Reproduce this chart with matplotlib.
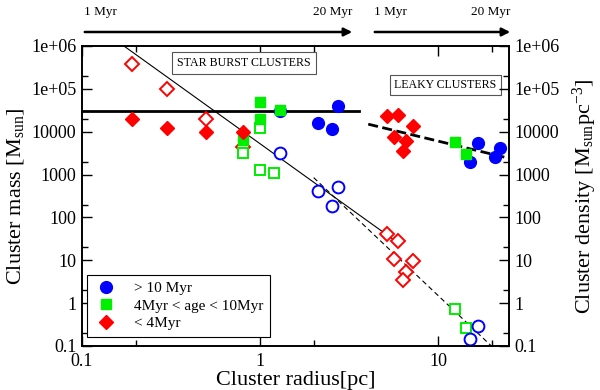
import matplotlib
matplotlib.use("Agg")
import matplotlib.pyplot as plt
from matplotlib.patches import FancyArrowPatch
from matplotlib.lines import Line2D
from matplotlib.ticker import FixedLocator, FixedFormatter, NullFormatter

plt.rcParams['font.family'] = ['Liberation Serif', 'DejaVu Serif']
plt.rcParams['mathtext.fontset'] = 'custom'
plt.rcParams['mathtext.rm'] = 'Liberation Serif'
plt.rcParams['mathtext.it'] = 'Liberation Serif:italic'

# ---------------- data ----------------
# > 10 Myr (blue)
old_r_mass = [1.3, 2.12, 2.53, 2.74, 15.1, 16.8, 20.9, 22.3]
old_mass = [3.1e4, 1.6e4, 1.15e4, 4.0e4, 1950, 5500, 2570, 4200]
old_r_dens = [1.3, 2.12, 2.53, 2.74, 15.1, 16.8]
old_dens = [3200, 410, 185, 510, 0.146, 0.29]

# 4 Myr < age < 10 Myr (green)
mid_r_mass = [0.8, 1.0, 1.0, 1.3, 12.5, 14.3]
mid_mass = [6400, 4.9e4, 2.0e4, 3.2e4, 5800, 3000]
mid_r_dens = [0.8, 1.0, 1.0, 1.2, 12.5, 14.3]
mid_dens = [3200, 1.2e4, 1300, 1100, 0.73, 0.26]

# < 4 Myr (red)
young_r_mass = [0.19, 0.30, 0.50, 0.80, 5.16, 5.96, 7.24, 5.66, 6.6, 6.38]
young_mass = [2.0e4, 1.22e4, 1.0e4, 1.0e4, 2.3e4, 2.45e4, 1.36e4, 7500, 6000, 3550]
young_r_dens = [0.19, 0.30, 0.50, 0.80, 5.16, 5.96, 5.66, 7.24, 6.6, 6.38]
young_dens = [3.8e5, 1.0e5, 2.0e4, 4400, 41, 28, 10.7, 9.6, 5.3, 3.5]

# fit lines
starburst_mass_x = [0.1, 3.6]
starburst_mass_y = [3.0e4, 3.0e4]
leaky_mass_x = [4.05, 25]
leaky_mass_y = [1.5e4, 2400]
starburst_dens_x = [0.172, 6.0]
starburst_dens_y = [1.0e6, 25]
leaky_dens_x = [2.0, 19.9]
leaky_dens_y = [850, 0.1]

x_major = [0.1, 1, 10]
x_major_labels = ["0.1", "1", "10"]
x_minor = [0.2, 2, 20]
y_major = [0.1, 1, 10, 100, 1000, 1e4, 1e5, 1e6]
y_major_labels = ["0.1", "1", "10", "100", "1000", "10000", "1e+05", "1e+06"]
y_minor = [0.2, 2, 20, 200, 2000, 2e4, 2e5]

legend_labels = ["> 10 Myr", "4Myr < age < 10Myr", "< 4Myr"]
arrow_labels = ["1 Myr", "20 Myr", "1 Myr", "20 Myr"]

BLUE = '#0000ff'
GREEN = '#00ee00'
RED = '#ff0000'

# ---------------- figure ----------------
fig = plt.figure(figsize=(6.0, 3.9), dpi=100)
ax = fig.add_axes([82/600, 1-346/390, 427/600, 300/390])
ax.set_xscale('log')
ax.set_yscale('log')
ax.set_xlim(0.1, 25)
ax.set_ylim(0.1, 1e6)

# lines
ax.plot(starburst_mass_x, starburst_mass_y, color='black', lw=2.0, zorder=2)
ax.plot(leaky_mass_x, leaky_mass_y, color='black', lw=2.0, dashes=(3.6, 1.6), zorder=2)
ax.plot(starburst_dens_x, starburst_dens_y, color='black', lw=0.8, zorder=2)
ax.plot(leaky_dens_x, leaky_dens_y, color='black', lw=0.8, dashes=(4.5, 3), zorder=2)

ms_c, ms_s, ms_d = 8.5, 7.0, 7.5
mew = 1.4
# open (density) markers
ax.plot(young_r_dens, young_dens, 'D', ms=ms_d, mfc='white', mec=RED, mew=mew, ls='none', zorder=3)
ax.plot(mid_r_dens, mid_dens, 's', ms=ms_s, mfc='white', mec=GREEN, mew=mew, ls='none', zorder=3)
ax.plot(old_r_dens, old_dens, 'o', ms=ms_c, mfc='white', mec=BLUE, mew=mew, ls='none', zorder=3)
# filled (mass) markers
ax.plot(old_r_mass, old_mass, 'o', ms=ms_c, color=BLUE, ls='none', zorder=4)
ax.plot(mid_r_mass, mid_mass, 's', ms=ms_s, color=GREEN, ls='none', zorder=4)
ax.plot(young_r_mass, young_mass, 'D', ms=ms_d, color=RED, ls='none', zorder=5)

# ticks
ax.xaxis.set_major_locator(FixedLocator(x_major))
ax.xaxis.set_major_formatter(FixedFormatter(x_major_labels))
ax.xaxis.set_minor_locator(FixedLocator(x_minor))
ax.xaxis.set_minor_formatter(NullFormatter())
ax.yaxis.set_major_locator(FixedLocator(y_major))
ax.yaxis.set_major_formatter(FixedFormatter(y_major_labels))
ax.yaxis.set_minor_locator(FixedLocator(y_minor))
ax.yaxis.set_minor_formatter(NullFormatter())
ax.tick_params(which='both', direction='in', top=True, labelsize=13, width=1.0)
ax.tick_params(which='major', length=7.5, pad=4)
ax.tick_params(which='minor', length=4.5)
ax.tick_params(axis='x', which='major', pad=5)
for s in ax.spines.values():
    s.set_linewidth(1.2)

ax2 = ax.twinx()
ax2.set_yscale('log')
ax2.set_ylim(0.1, 1e6)
ax2.yaxis.set_major_locator(FixedLocator(y_major))
ax2.yaxis.set_major_formatter(FixedFormatter(y_major_labels))
ax2.yaxis.set_minor_locator(FixedLocator(y_minor))
ax2.yaxis.set_minor_formatter(NullFormatter())
ax2.tick_params(which='both', direction='in', labelsize=13, width=1.0)
ax2.tick_params(which='major', length=7.5, pad=4)
ax2.tick_params(which='minor', length=4.5)
for s in ax2.spines.values():
    s.set_linewidth(1.2)

ax.set_xlabel('Cluster radius[pc]', fontsize=16, labelpad=1)
ax.set_ylabel(r'Cluster mass [M$_{\rm sun}$]', fontsize=16, labelpad=4)
ax2.set_ylabel(r'Cluster density [M$_{\rm sun}$pc$^{-3}$]', fontsize=16, labelpad=8)

# annotation boxes
ax.text(0.379, 0.943, 'STAR BURST CLUSTERS', transform=ax.transAxes, fontsize=8.6,
        ha='center', va='center',
        bbox=dict(boxstyle='square,pad=0.45', fc='white', ec='#555555', lw=0.8), zorder=6)
ax.text(0.851, 0.87, 'LEAKY CLUSTERS', transform=ax.transAxes, fontsize=8.6,
        ha='center', va='center',
        bbox=dict(boxstyle='square,pad=0.35', fc='white', ec='#555555', lw=0.8), zorder=6)

# legend
handles = [
    Line2D([], [], marker='o', ls='none', color=BLUE, ms=ms_c),
    Line2D([], [], marker='s', ls='none', color=GREEN, ms=ms_s),
    Line2D([], [], marker='D', ls='none', color=RED, ms=ms_d),
]
leg = ax.legend(handles, legend_labels, loc='lower left', bbox_to_anchor=(0.0117, 0.03),
                borderaxespad=0, fontsize=11, frameon=True, fancybox=False,
                edgecolor='black', framealpha=1, handlelength=1.6, handletextpad=1.0,
                labelspacing=0.25, borderpad=0.45)
leg.get_frame().set_linewidth(0.8)
leg.set_zorder(10)

# top age arrows (figure pixel coordinates)
H = 390
for (x0, x1) in [(82, 355), (372, 513)]:
    arr = FancyArrowPatch((x0, H - 32), (x1, H - 32), transform=None,
                          arrowstyle='-|>', mutation_scale=12, lw=1.8, color='black')
    fig.patches.append(arr)
for lab, xp in zip(arrow_labels, [84, 313, 374, 471]):
    fig.text(xp / 600, 1 - 12 / H, lab, fontsize=9.5, ha='left', va='center')

fig.savefig('out.png', dpi=100)
